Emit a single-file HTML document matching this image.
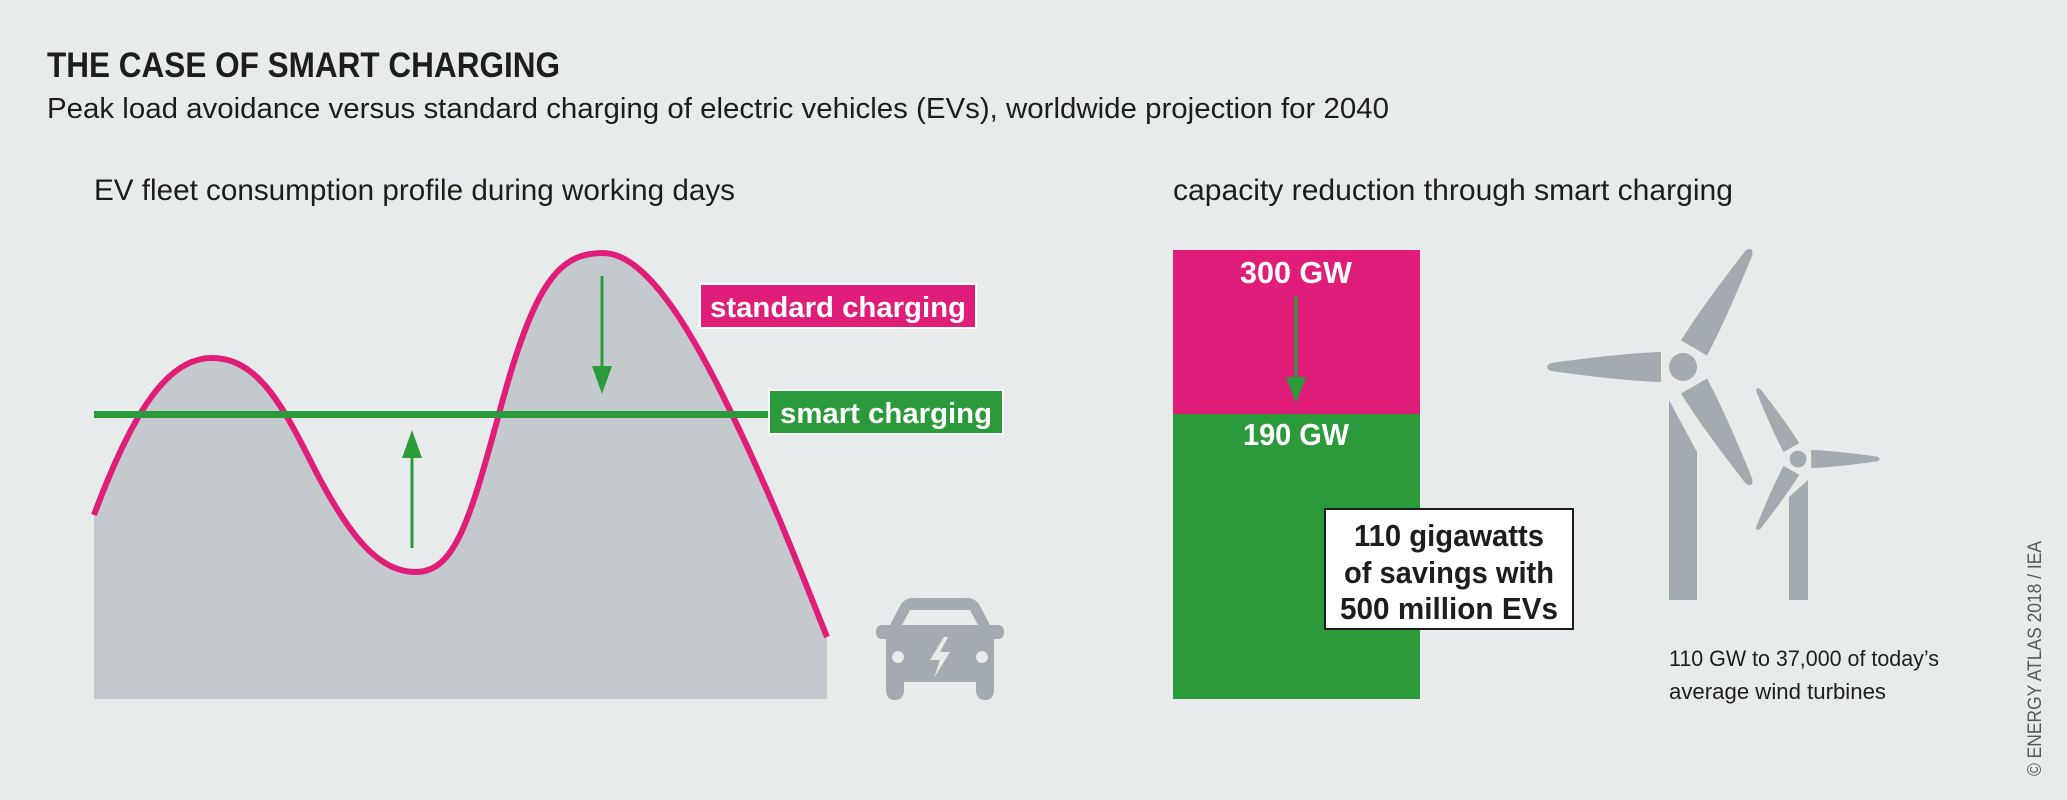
<!DOCTYPE html>
<html><head><meta charset="utf-8"><style>
html,body{margin:0;padding:0;background:#e8ebec}
svg{display:block}
text{font-family:"Liberation Sans Narrow","Liberation Sans",sans-serif}
</style></head><body>
<svg width="2067" height="800" viewBox="0 0 2067 800" xmlns="http://www.w3.org/2000/svg">
<rect width="2067" height="800" fill="#e8ebec"/>
<text x="47" y="77" font-size="35" font-weight="bold" fill="#1d1d1b" textLength="513" lengthAdjust="spacingAndGlyphs">THE CASE OF SMART CHARGING</text>
<text x="47" y="118" font-size="29" fill="#1d1d1b" textLength="1342" lengthAdjust="spacingAndGlyphs">Peak load avoidance versus standard charging of electric vehicles (EVs), worldwide projection for 2040</text>
<text x="94" y="200" font-size="30" fill="#1d1d1b" textLength="641" lengthAdjust="spacingAndGlyphs">EV fleet consumption profile during working days</text>
<text x="1173" y="200" font-size="30" fill="#1d1d1b" textLength="560" lengthAdjust="spacingAndGlyphs">capacity reduction through smart charging</text>

<path d="M94,515 C135,405 170,358 212,358 C255,358 280,400 310,460 C350,540 380,572 416,572 C455,572 470,520 500,410 C535,280 560,253 603,253 C640,253 680,310 720,390 C770,490 800,570 827,637 L827,699 L94,699 Z" fill="#c4c9cd"/>
<path d="M94,515 C135,405 170,358 212,358 C255,358 280,400 310,460 C350,540 380,572 416,572 C455,572 470,520 500,410 C535,280 560,253 603,253 C640,253 680,310 720,390 C770,490 800,570 827,637" fill="none" stroke="#e01d78" stroke-width="6"/>
<rect x="94" y="411" width="676" height="7" fill="#2a9a3a"/>
<rect x="769" y="390" width="234" height="44" fill="#2a9a3a" stroke="#fff" stroke-width="2"/>
<text x="886" y="423" font-size="29" font-weight="bold" fill="#fff" text-anchor="middle" textLength="212" lengthAdjust="spacingAndGlyphs">smart charging</text>
<rect x="700" y="284" width="276" height="44" fill="#e01d78" stroke="#fff" stroke-width="2"/>
<text x="838" y="317" font-size="29" font-weight="bold" fill="#fff" text-anchor="middle" textLength="256" lengthAdjust="spacingAndGlyphs">standard charging</text>
<line x1="412" y1="548" x2="412" y2="452" stroke="#2a9a3a" stroke-width="3"/>
<polygon points="402,458 422,458 412,430" fill="#2a9a3a"/>
<line x1="602" y1="276" x2="602" y2="370" stroke="#2a9a3a" stroke-width="3"/>
<polygon points="592,366 612,366 602,394" fill="#2a9a3a"/>
<g fill="#a3aab0">
<path d="M890,625 L900,606 Q904,598 914,598 L966,598 Q976,598 980,606 L990,625 L998,625 Q1004,625 1004,632 Q1004,639 998,639 L994,639 L994,690 Q994,700 985,700 Q976,700 976,690 L976,682 L904,682 L904,690 Q904,700 895,700 Q886,700 886,690 L886,639 L882,639 Q876,639 876,632 Q876,625 882,625 Z"/>
</g>
<path d="M902,625 L910,610 L970,610 L978,625 Z" fill="#e8ebec"/>
<circle cx="898" cy="657" r="6" fill="#e8ebec"/>
<circle cx="982" cy="657" r="6" fill="#e8ebec"/>
<polygon points="944,637 930,660 940,660 934,678 950,652 940,652 948,637" fill="#e8ebec"/>

<rect x="1173" y="250" width="247" height="164" fill="#e01d78"/>
<rect x="1173" y="414" width="247" height="285" fill="#2a9a3a"/>
<text x="1296" y="283" font-size="31" font-weight="bold" fill="#fff" text-anchor="middle" textLength="112" lengthAdjust="spacingAndGlyphs">300 GW</text>
<text x="1296" y="445" font-size="31" font-weight="bold" fill="#fff" text-anchor="middle" textLength="106" lengthAdjust="spacingAndGlyphs">190 GW</text>
<line x1="1296" y1="296" x2="1296" y2="380" stroke="#2a9a3a" stroke-width="3"/>
<polygon points="1286,377 1306,377 1296,403" fill="#2a9a3a"/>
<rect x="1325" y="509" width="248" height="120" fill="#fff" stroke="#1d1d1b" stroke-width="2"/>
<g font-size="31" font-weight="bold" fill="#1d1d1b" text-anchor="middle">
<text x="1449" y="546" textLength="190" lengthAdjust="spacingAndGlyphs">110 gigawatts</text>
<text x="1449" y="583" textLength="210" lengthAdjust="spacingAndGlyphs">of savings with</text>
<text x="1449" y="619" textLength="218" lengthAdjust="spacingAndGlyphs">500 million EVs</text>
</g>

<defs><path id="bl" d="M22,-15 Q60,-14 132,-4 Q140,0 132,4 Q60,14 22,15 Z"/></defs>
<g fill="#a3aab0">
<polygon points="1669,400 1697,452 1697,600 1669,600"/>
<g transform="translate(1683,367)">
<use href="#bl" transform="rotate(-60)"/>
<use href="#bl" transform="rotate(60)"/>
<use href="#bl" transform="rotate(180)"/>
<circle r="22" fill="#e8ebec"/>
<circle r="14"/>
</g>
</g>
<g fill="#a3aab0">
<polygon points="1789,497 1808,480 1808,600 1789,600"/>
<g transform="translate(1798,459) scale(0.6)">
<use href="#bl"/>
<use href="#bl" transform="rotate(-120)"/>
<use href="#bl" transform="rotate(120)"/>
<circle r="22" fill="#e8ebec"/>
<circle r="14"/>
</g>
</g>
<text x="1669" y="666" font-size="22" fill="#1d1d1b" textLength="270" lengthAdjust="spacingAndGlyphs">110 GW to 37,000 of today’s</text>
<text x="1669" y="699" font-size="22" fill="#1d1d1b" textLength="217" lengthAdjust="spacingAndGlyphs">average wind turbines</text>
<text transform="translate(2041,776) rotate(-90)" font-size="19" fill="#55595c" style="font-family:'Liberation Sans',sans-serif" textLength="235" lengthAdjust="spacingAndGlyphs">© ENERGY ATLAS 2018 / IEA</text>
</svg>
</body></html>
